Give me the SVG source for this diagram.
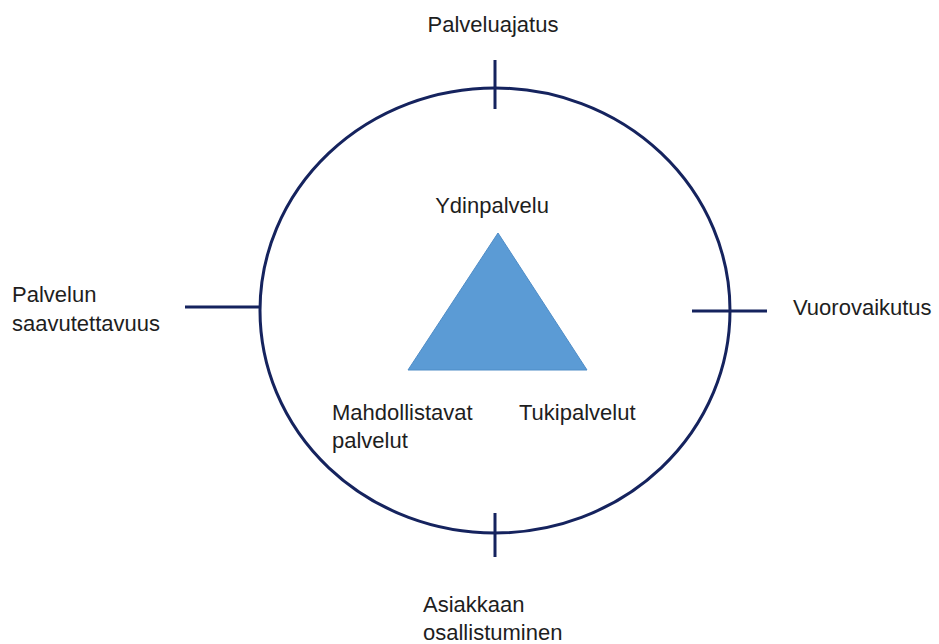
<svg xmlns="http://www.w3.org/2000/svg" width="939" height="644" viewBox="0 0 939 644">
<style>
.t{font-family:"Liberation Sans",Arial,sans-serif;font-size:22px;fill:#1e1e1e}
.ln{stroke:#15235e;stroke-width:3;fill:none}
</style>
<rect width="939" height="644" fill="#fff"/>
<g id="connectors">
<line class="ln" x1="495" y1="60" x2="495" y2="109"/>
<line class="ln" x1="495" y1="513" x2="495" y2="557"/>
<line class="ln" x1="185" y1="307" x2="260" y2="307"/>
<line class="ln" x1="692" y1="311" x2="767" y2="311"/>
</g>
<g id="circle">
<ellipse class="ln" cx="495" cy="310.5" rx="235" ry="222.5"/>
</g>
<g id="triangle">
<polygon points="498,233 408,370 587,370" fill="#5b9bd5" stroke="#4f8cc6" stroke-width="1"/>
</g>
<g id="palveluajatus"><text class="t" x="493" y="32" text-anchor="middle">Palveluajatus</text></g>
<g id="saavutettavuus"><text class="t" x="12" y="302">Palvelun</text><text class="t" x="12" y="331">saavutettavuus</text></g>
<g id="vuorovaikutus"><text class="t" x="793" y="315">Vuorovaikutus</text></g>
<g id="osallistuminen"><text class="t" x="423" y="612">Asiakkaan</text><text class="t" x="423" y="640">osallistuminen</text></g>
<g id="ydinpalvelu"><text class="t" x="492" y="213" text-anchor="middle">Ydinpalvelu</text></g>
<g id="mahdollistavat"><text class="t" x="332" y="420">Mahdollistavat</text><text class="t" x="332" y="448">palvelut</text></g>
<g id="tukipalvelut"><text class="t" x="519" y="420">Tukipalvelut</text></g>
</svg>
